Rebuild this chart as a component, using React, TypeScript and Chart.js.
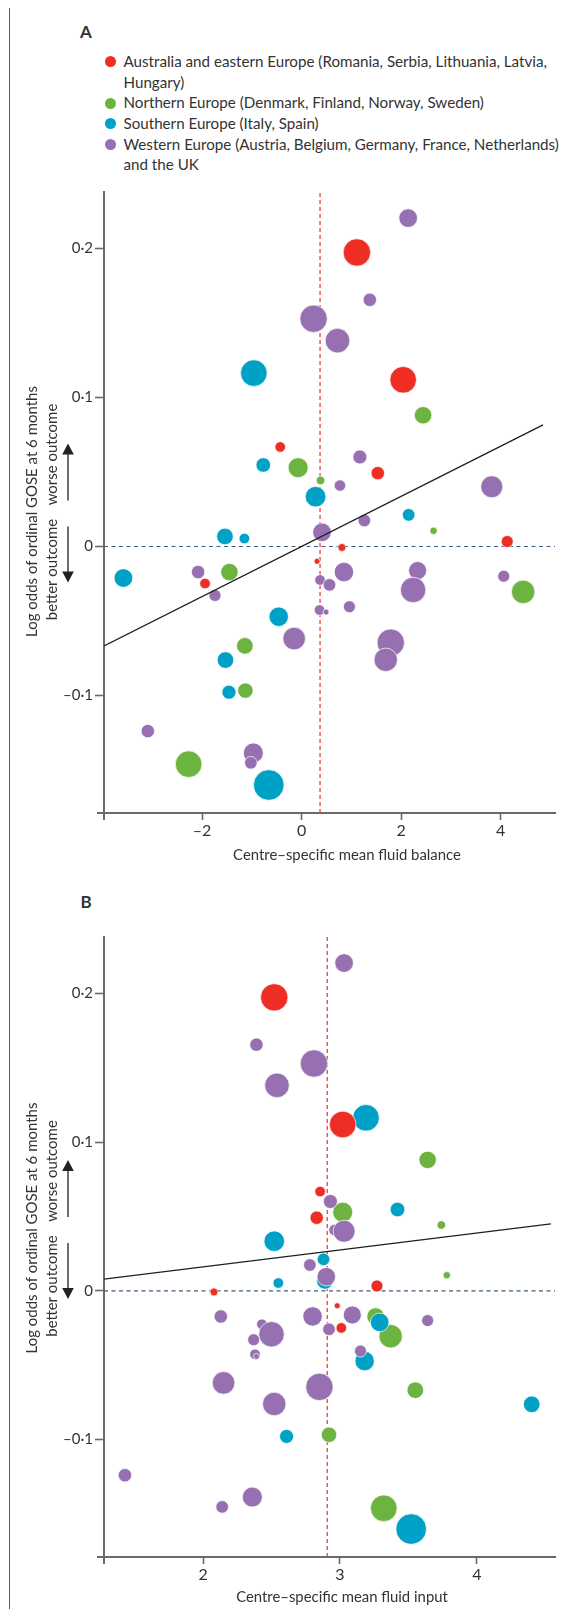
import React, { useEffect, useRef } from "react";
import { Chart, registerables } from "chart.js";

Chart.register(...registerables);

// ---------------- data ----------------
const regionNames = [
  "Australia and eastern Europe (Romania, Serbia, Lithuania, Latvia, Hungary)",
  "Northern Europe (Denmark, Finland, Norway, Sweden)",
  "Southern Europe (Italy, Spain)",
  "Western Europe (Austria, Belgium, Germany, France, Netherlands) and the UK",
];
const legendLines = [
  ["Australia and eastern Europe (Romania, Serbia, Lithuania, Latvia,", "Hungary)"],
  ["Northern Europe (Denmark, Finland, Norway, Sweden)"],
  ["Southern Europe (Italy, Spain)"],
  ["Western Europe (Austria, Belgium, Germany, France, Netherlands)", "and the UK"],
];
const regionColors = ["#ee2d24", "#6cb33f", "#00a1c6", "#9670b0"];

// Australia and eastern Europe
const eastLogOdds = [0.0668, 0.1974, 0.1119, 0.0492, 0.0033, -0.0007, -0.01, -0.0249];
const eastBalance = [-0.43, 1.11, 2.04, 1.53, 4.13, 0.81, 0.31, -1.94];
const eastInput = [2.855, 2.52, 3.02, 2.83, 3.27, 2.08, 2.98, 3.01];
const eastSize = [5.3, 13.7, 13.3, 6.7, 6, 4, 3, 5.3];

// Northern Europe
const northLogOdds = [0.0529, 0.0881, 0.0443, 0.0105, -0.0305, -0.0172, -0.0668, -0.0968, -0.1462];
const northBalance = [-0.07, 2.44, 0.38, 2.65, 4.45, -1.45, -1.14, -1.13, -2.27];
const northInput = [3.02, 3.64, 3.74, 3.78, 3.37, 3.26, 3.55, 2.92, 3.32];
const northSize = [10, 8.7, 4.3, 3.7, 11.7, 8.7, 8.3, 7.7, 13.3];

// Southern Europe
const southLogOdds = [0.1164, 0.0547, 0.0334, 0.0212, 0.0067, 0.0053, -0.0212, -0.0472, -0.0763, -0.0979, -0.1602];
const southBalance = [-0.96, -0.77, 0.28, 2.15, -1.54, -1.15, -3.58, -0.46, -1.53, -1.46, -0.66];
const southInput = [3.19, 3.42, 2.52, 2.88, 2.89, 2.55, 3.29, 3.18, 4.4, 2.61, 3.52];
const southSize = [13.3, 7.3, 10.3, 6.3, 8.3, 5.3, 9.3, 9.7, 8.3, 7, 15.3];

// Western Europe and the UK
const westLogOdds = [0.2205, 0.1656, 0.1529, 0.1382, 0.0601, 0.0409, 0.0401, 0.0174, 0.0095, -0.0172, -0.0162, -0.02, -0.0225, -0.0258, -0.0292, -0.0427, -0.0441, -0.0405, -0.0619, -0.0646, -0.0761, -0.0172, -0.0329, -0.124, -0.1387, -0.1453];
const westBalance = [2.14, 1.37, 0.24, 0.72, 1.17, 0.77, 3.82, 1.26, 0.41, 0.85, 2.33, 4.06, 0.37, 0.56, 2.24, 0.36, 0.49, 0.96, -0.15, 1.79, 1.69, -2.08, -1.74, -3.09, -0.97, -1.02];
const westInput = [3.03, 2.39, 2.81, 2.54, 2.93, 2.96, 3.03, 2.78, 2.9, 2.8, 3.09, 3.64, 2.43, 2.92, 2.5, 2.38, 2.39, 3.15, 2.15, 2.85, 2.52, 2.13, 2.37, 1.43, 2.36, 2.14];
const westSize = [9.3, 6.7, 13.7, 12.3, 7, 5.7, 11, 6.3, 9.3, 9.7, 9, 6, 5.3, 6.3, 12.7, 5.3, 3, 6, 11.3, 13.7, 11.7, 6.7, 6, 6.7, 10, 6.3];

// regression lines and centre means
const balanceFitX = [-3.97, 4.85];
const balanceFitY = [-0.0668, 0.0816];
const inputFitX = [1.277, 4.54];
const inputFitY = [0.0079, 0.0451];
const meanBalance = 0.37;
const meanInput = 2.907;

// axes
const balanceRange = [-3.97, 5.09];
const inputRange = [1.277, 4.57];
const logOddsRange = [-0.179, 0.238];
const balanceTicks = [-2, 0, 2, 4];
const inputTicks = [2, 3, 4];
const logOddsTicks = [-0.1, 0, 0.1, 0.2];

const yTitle = "Log odds of ordinal GOSE at 6 months";
const worseLabel = "worse outcome";
const betterLabel = "better outcome";
const balanceTitle = "Centre\u2013specific mean fluid balance";
const inputTitle = "Centre\u2013specific mean fluid input";

// ---------------- styling ----------------
const FONT = "Lato, 'Noto Sans', sans-serif";
const TEXT = "#333333";
const AXIS = "#6a6a6a";
const FRAME = "#c8285a";

let measureCtx: CanvasRenderingContext2D | null = null;
function fitSize(text: string, width: number, weight = "normal"): number {
  if (!measureCtx) measureCtx = document.createElement("canvas").getContext("2d");
  if (!measureCtx) return 15;
  measureCtx.font = `${weight} 100px ${FONT}`;
  const w = measureCtx.measureText(text).width || 1;
  return (100 * width) / w;
}

const fmt = (v: number) =>
  v === 0 ? "0" : (v < 0 ? "\u2013" : "") + String(Math.abs(v)).replace(".", "\u00b7");

const decorPlugin = {
  id: "decor",
  afterDraw(chart: any, _args: any, opts: any) {
    const { ctx, chartArea } = chart;
    const { left, bottom } = chartArea;
    ctx.save();
    // axis corner overhang
    ctx.strokeStyle = AXIS;
    ctx.lineWidth = 2;
    ctx.beginPath();
    ctx.moveTo(left - 7, bottom);
    ctx.lineTo(left, bottom);
    ctx.lineTo(left, bottom + 7);
    ctx.stroke();

    ctx.fillStyle = TEXT;
    // x title
    const xs = fitSize(opts.xTitle, opts.xTitleWidth);
    ctx.font = `${xs}px ${FONT}`;
    ctx.textAlign = "center";
    ctx.textBaseline = "middle";
    ctx.fillText(opts.xTitle, opts.xTitleX, opts.xTitleY);

    // y title
    const ys = fitSize(yTitle, opts.yTitleWidth);
    ctx.font = `${ys}px ${FONT}`;
    const cy = opts.yTitleY;
    const rot = (text: string, x: number, y: number) => {
      ctx.save();
      ctx.translate(x, y);
      ctx.rotate(-Math.PI / 2);
      ctx.textAlign = "center";
      ctx.textBaseline = "alphabetic";
      ctx.fillText(text, 0, 0);
      ctx.restore();
    };
    rot(yTitle, 37, cy);
    rot(worseLabel, 57, cy - 57);
    rot(betterLabel, 57, cy + 58);

    // arrows
    const ax = 68;
    ctx.strokeStyle = "#222";
    ctx.fillStyle = "#222";
    ctx.lineWidth = 1.3;
    ctx.beginPath();
    ctx.moveTo(ax, cy - 11);
    ctx.lineTo(ax, cy - 58);
    ctx.moveTo(ax, cy + 15);
    ctx.lineTo(ax, cy + 61);
    ctx.stroke();
    ctx.beginPath();
    ctx.moveTo(ax, cy - 68);
    ctx.lineTo(ax - 5.8, cy - 57);
    ctx.lineTo(ax + 5.8, cy - 57);
    ctx.closePath();
    ctx.fill();
    ctx.beginPath();
    ctx.moveTo(ax, cy + 71);
    ctx.lineTo(ax - 5.8, cy + 60);
    ctx.lineTo(ax + 5.8, cy + 60);
    ctx.closePath();
    ctx.fill();
    ctx.restore();
  },
};

type Spec = {
  top: number;
  height: number;
  xKey: "balance" | "input";
  xRange: number[];
  xTicks: number[];
  fitX: number[];
  fitY: number[];
  mean: number;
  xAxisHeight: number;
  padRight: number;
  xTitle: string;
  xTitleX: number;
  xTitleY: number;
  xTitleWidth: number;
  yTitleY: number;
  yTitleWidth: number;
};

function buildConfig(spec: Spec): any {
  const series = [
    { name: regionNames[0], color: regionColors[0], y: eastLogOdds, x: spec.xKey === "balance" ? eastBalance : eastInput, r: eastSize, order: 2 },
    { name: regionNames[1], color: regionColors[1], y: northLogOdds, x: spec.xKey === "balance" ? northBalance : northInput, r: northSize, order: 4 },
    { name: regionNames[2], color: regionColors[2], y: southLogOdds, x: spec.xKey === "balance" ? southBalance : southInput, r: southSize, order: 3 },
    { name: regionNames[3], color: regionColors[3], y: westLogOdds, x: spec.xKey === "balance" ? westBalance : westInput, r: westSize, order: 1 },
  ];
  const bubbles = series.map((s) => ({
    type: "bubble",
    label: s.name,
    data: s.x.map((x, i) => ({ x, y: s.y[i], r: s.r[i] })),
    backgroundColor: s.color,
    borderColor: "#ffffff",
    borderWidth: 0.7,
    hoverBorderWidth: 0.7,
    order: s.order,
    clip: false,
  }));
  const fit = {
    type: "line",
    label: "fit",
    data: spec.fitX.map((x, i) => ({ x, y: spec.fitY[i] })),
    borderColor: "#1e1e1e",
    borderWidth: 1.3,
    pointRadius: 0,
    fill: false,
    order: 0,
  };
  const meanLine = {
    type: "line",
    label: "mean",
    data: [
      { x: spec.mean, y: logOddsRange[0] },
      { x: spec.mean, y: logOddsRange[1] },
    ],
    borderColor: "#ef3e3e",
    borderWidth: 1.3,
    borderDash: [4, 3],
    pointRadius: 0,
    fill: false,
    order: 5,
  };
  const zeroLine = {
    type: "line",
    label: "zero",
    data: [
      { x: spec.xRange[0], y: 0 },
      { x: spec.xRange[1], y: 0 },
    ],
    borderColor: "#3b5f7d",
    borderWidth: 1.1,
    borderDash: [4, 3.5],
    pointRadius: 0,
    fill: false,
    order: 6,
  };
  return {
    type: "bubble",
    data: { datasets: [...bubbles, fit, meanLine, zeroLine] },
    plugins: [decorPlugin],
    options: {
      animation: false,
      responsive: false,
      maintainAspectRatio: false,
      events: [],
      layout: { padding: { top: 12, right: spec.padRight, left: 0, bottom: 0 } },
      plugins: {
        legend: { display: false },
        tooltip: { enabled: false },
        decor: {
          xTitle: spec.xTitle,
          xTitleX: spec.xTitleX,
          xTitleY: spec.xTitleY,
          xTitleWidth: spec.xTitleWidth,
          yTitleY: spec.yTitleY,
          yTitleWidth: spec.yTitleWidth,
        },
      },
      scales: {
        x: {
          type: "linear",
          min: spec.xRange[0],
          max: spec.xRange[1],
          afterBuildTicks: (s: any) => {
            s.ticks = spec.xTicks.map((value) => ({ value }));
          },
          afterFit: (s: any) => {
            s.height = spec.xAxisHeight;
          },
          ticks: {
            callback: (v: any) => fmt(Number(v)),
            font: { family: FONT, size: 16 },
            color: TEXT,
            padding: 1,
            maxRotation: 0,
            autoSkip: false,
          },
          grid: {
            drawOnChartArea: false,
            drawTicks: true,
            tickLength: 7,
            tickColor: AXIS,
            tickWidth: 1.6,
          },
          border: { display: true, color: AXIS, width: 2 },
        },
        y: {
          type: "linear",
          min: logOddsRange[0],
          max: logOddsRange[1],
          afterBuildTicks: (s: any) => {
            s.ticks = logOddsTicks.map((value) => ({ value }));
          },
          afterFit: (s: any) => {
            s.width = 104;
          },
          ticks: {
            callback: (v: any) => fmt(Number(v)),
            font: { family: FONT, size: 15 },
            color: TEXT,
            padding: 2,
            autoSkip: false,
          },
          grid: {
            drawOnChartArea: false,
            drawTicks: true,
            tickLength: 9,
            tickColor: AXIS,
            tickWidth: 1.6,
          },
          border: { display: true, color: AXIS, width: 2 },
        },
      },
    },
  };
}

const specA: Spec = {
  top: 176,
  height: 700,
  xKey: "balance",
  xRange: balanceRange,
  xTicks: balanceTicks,
  fitX: balanceFitX,
  fitY: balanceFitY,
  mean: meanBalance,
  xAxisHeight: 63,
  padRight: 6,
  xTitle: balanceTitle,
  xTitleX: 347,
  xTitleY: 679,
  xTitleWidth: 228,
  yTitleY: 335.5,
  yTitleWidth: 251,
};

const specB: Spec = {
  top: 921,
  height: 696,
  xKey: "input",
  xRange: inputRange,
  xTicks: inputTicks,
  fitX: inputFitX,
  fitY: inputFitY,
  mean: meanInput,
  xAxisHeight: 60,
  padRight: 5,
  xTitle: inputTitle,
  xTitleX: 342,
  xTitleY: 676,
  xTitleWidth: 212,
  yTitleY: 307,
  yTitleWidth: 251,
};

function Panel({ spec }: { spec: Spec }) {
  const ref = useRef<HTMLCanvasElement | null>(null);
  useEffect(() => {
    if (!ref.current) return;
    const chart = new Chart(ref.current, buildConfig(spec));
    return () => chart.destroy();
  }, [spec]);
  return (
    <canvas
      ref={ref}
      width={571}
      height={spec.height}
      style={{ position: "absolute", left: 0, top: spec.top, width: 571, height: spec.height }}
    />
  );
}

function Legend() {
  const lineH = 20.7;
  const fontSize = fitSize(legendLines[0][0], 424);
  const capOffset = (lineH - 1.2 * fontSize) / 2 + 0.987 * fontSize - 0.3585 * fontSize;
  const firstCap = 61.7;
  let lineIndex = 0;
  return (
    <>
      {legendLines.map((lines, i) => {
        const capY = firstCap + lineIndex * lineH;
        lineIndex += lines.length;
        return (
          <div key={i}>
            <div
              style={{
                position: "absolute",
                left: 104.5,
                top: capY - 5.5,
                width: 11,
                height: 11,
                borderRadius: "50%",
                background: regionColors[i],
              }}
            />
            <div
              style={{
                position: "absolute",
                left: 123.5,
                top: capY - capOffset,
                fontSize,
                lineHeight: `${lineH}px`,
                whiteSpace: "nowrap",
                color: TEXT,
              }}
            >
              {lines.map((l, j) => (
                <div key={j}>{l}</div>
              ))}
            </div>
          </div>
        );
      })}
    </>
  );
}

export default function App() {
  return (
    <div
      style={{
        position: "relative",
        width: 571,
        height: 1617,
        margin: -8,
        overflow: "hidden",
        fontFamily: FONT,
        color: TEXT,
        background: "#ffffff",
      }}
    >
      <div
        style={{
          position: "absolute",
          left: 9,
          top: 5.5,
          width: 600,
          height: 1700,
          borderTop: `1.5px solid ${FRAME}`,
          borderLeft: `1.5px solid ${FRAME}`,
        }}
      />
      <div style={{ position: "absolute", left: 80, top: 21.5, fontSize: 17, fontWeight: 700, lineHeight: "20px" }}>A</div>
      <Legend />
      <Panel spec={specA} />
      <div style={{ position: "absolute", left: 80.5, top: 891.5, fontSize: 17, fontWeight: 700, lineHeight: "20px" }}>B</div>
      <Panel spec={specB} />
    </div>
  );
}
